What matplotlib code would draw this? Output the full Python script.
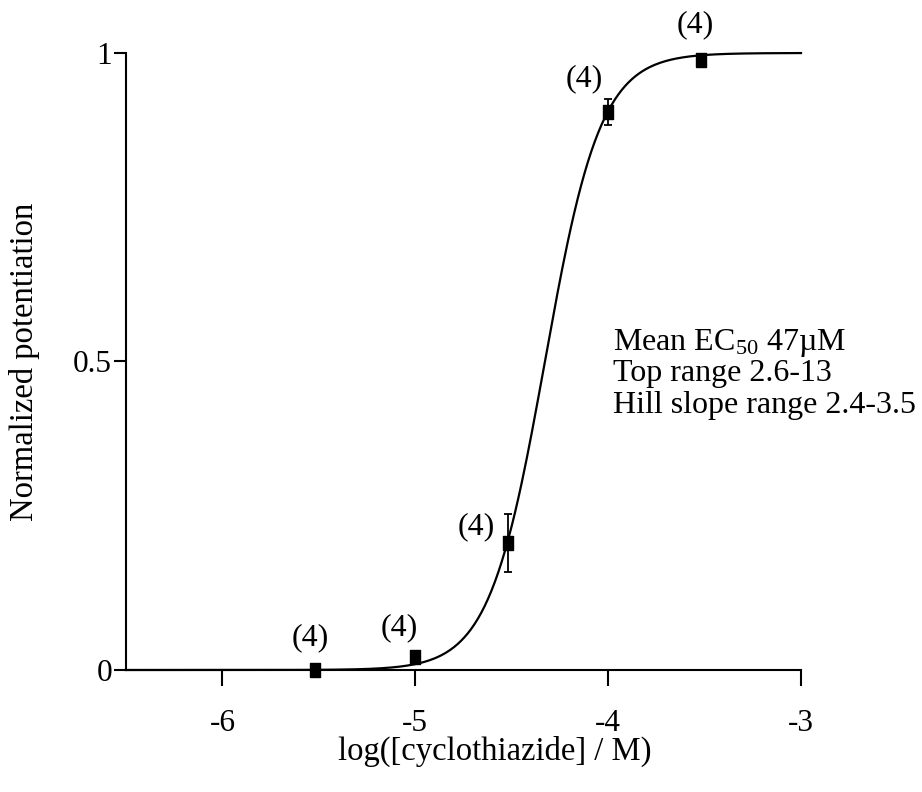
import numpy as np
import matplotlib
matplotlib.use('Agg')
import matplotlib.pyplot as plt

plt.rcParams['font.family'] = ['Liberation Serif', 'DejaVu Serif']
plt.rcParams['mathtext.fontset'] = 'custom'
plt.rcParams['mathtext.rm'] = 'Liberation Serif'

# Data: log concentration of cyclothiazide, normalized potentiation, SEM, n
log_conc = [-5.52, -5.0, -4.52, -4.0, -3.52]
response = [0.0, 0.021, 0.206, 0.904, 0.989]
sem = [0.004, 0.010, 0.047, 0.021, 0.004]
n_cells = [4, 4, 4, 4, 4]

# Hill fit parameters
bottom = 0.0
top = 1.0
ec50_molar = 47e-6
hill_slope = 3.0

# label offsets (pixels) for the (n) annotations
label_offsets = [(-5, 32), (-16, 29), (-32, 16), (-24, 34), (-5, 35)]

info_lines = [r'Mean EC$\mathregular{_{50}}$ 47µM',
              'Top range 2.6-13',
              'Hill slope range 2.4-3.5']

fig = plt.figure(figsize=(9.22, 7.92), dpi=100)
ax = fig.add_axes([126/922, 1 - 670/792, 675/922, 617/792])

# Fitted curve
xfit = np.linspace(-6.5, -3.0, 400)
yfit = bottom + (top - bottom) / (1 + 10 ** ((np.log10(ec50_molar) - xfit) * hill_slope))
ax.plot(xfit, yfit, color='black', lw=1.6, zorder=2, clip_on=False)

# Data points with error bars
rect_marker = [(-0.36, -0.5), (0.36, -0.5), (0.36, 0.5), (-0.36, 0.5), (-0.36, -0.5)]
ax.errorbar(log_conc, response, yerr=sem, fmt='none', ecolor='black',
            elinewidth=1.3, capsize=3, capthick=1.3, zorder=3)
ax.plot(log_conc, response, linestyle='none', marker=rect_marker, markersize=10.5,
        color='black', zorder=4, clip_on=False)

for x, y, n, off in zip(log_conc, response, n_cells, label_offsets):
    ax.annotate('(%d)' % n, (x, y), xytext=off, textcoords='offset pixels',
                ha='center', va='center', fontsize=23, annotation_clip=False)

# Info text
for i, line in enumerate(info_lines):
    ax.text(-3.977, 0.5186 - i * 0.0510, line, fontsize=23, ha='left', va='baseline')

ax.set_xlim(-6.5, -3.0)
ax.set_ylim(0, 1)
ax.set_xticks([-6, -5, -4, -3])
ax.set_xticklabels(['-6', '-5', '-4', '-3'])
ax.set_yticks([0, 0.5, 1])
ax.set_yticklabels(['0', '0.5', '1'])

for side in ['top', 'right']:
    ax.spines[side].set_visible(False)
for side in ['left', 'bottom']:
    ax.spines[side].set_linewidth(1.5)

ax.tick_params(axis='x', direction='out', length=11.5, width=1.5, pad=16.5, labelsize=22.5)
ax.tick_params(axis='y', direction='out', length=9, width=1.5, pad=1, labelsize=22.5)

ax.set_xlabel('log([cyclothiazide] / M)', fontsize=23.5)
ax.xaxis.set_label_coords(0.547, -0.106)
ax.set_ylabel('Normalized potentiation', fontsize=23.5)
ax.yaxis.set_label_coords(-0.127, 0.5)

fig.savefig('out.png', dpi=100)
